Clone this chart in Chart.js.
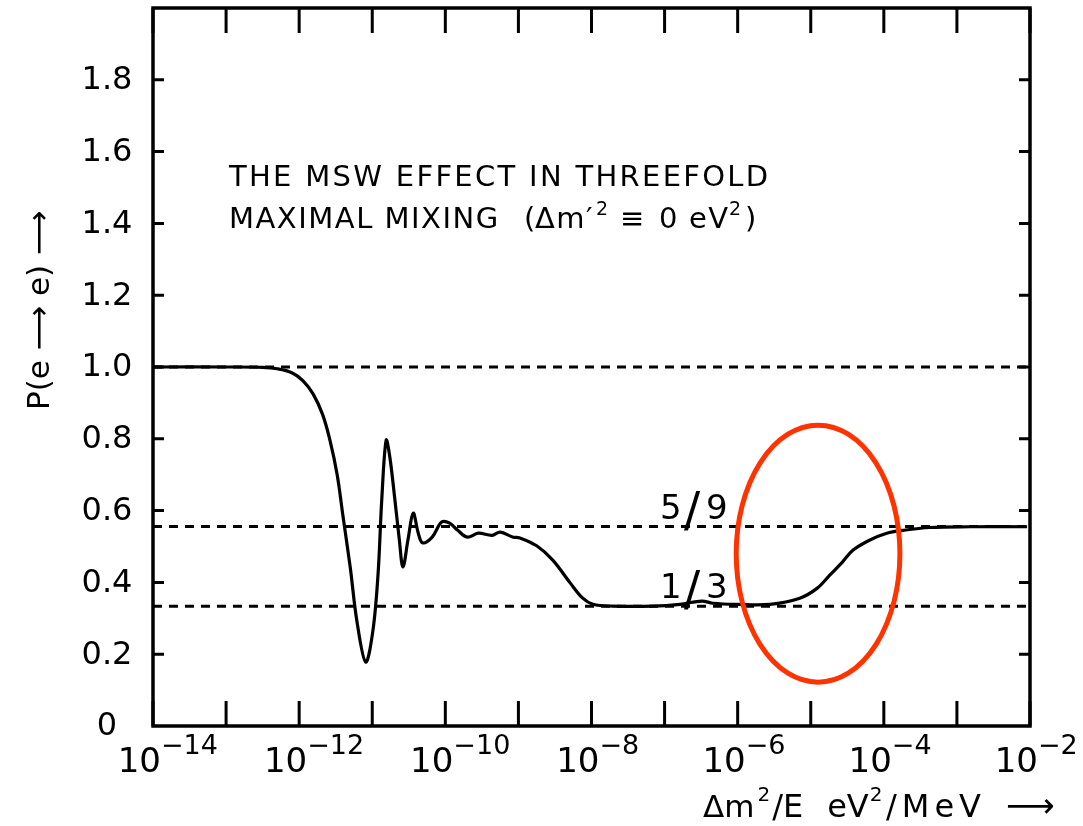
<!DOCTYPE html>
<html>
<head>
<meta charset="utf-8">
<script src="https://cdn.jsdelivr.net/npm/chart.js@4.4.1/dist/chart.umd.min.js"></script>
<style>
  body { margin: 0; background: #fff; }
  canvas { display: block; }
</style>
</head>
<body>
<canvas id="msw-chart" width="1083" height="826"></canvas>
<script>
// decades on the x axis (exponents of dm^2/E in eV^2/MeV)
const decadeExponents = [-14, -13, -12, -11, -10, -9, -8, -7, -6, -5, -4, -3, -2];
const labelledExponents = [-14, -12, -10, -8, -6, -4, -2];
const yTickValues = [0.2, 0.4, 0.6, 0.8, 1.0, 1.2, 1.4, 1.6, 1.8];
const yTickLabels = ["0", "0.2", "0.4", "0.6", "0.8", "1.0", "1.2", "1.4", "1.6", "1.8"];

// P(e -> e), x given as log10(dm^2/E)
const curveLogX = [
  -14, -12.95, -12.5, -12.3, -12.1, -11.95, -11.81, -11.68, -11.58, -11.48,
  -11.4, -11.3, -11.21, -11.09, -10.99, -10.92, -10.87, -10.81, -10.76, -10.69,
  -10.63, -10.58, -10.51, -10.44, -10.37, -10.31, -10.18, -10.05, -9.94, -9.83,
  -9.7, -9.55, -9.36, -9.25, -9.07, -8.98, -8.75, -8.53, -8.29, -8.12,
  -7.98, -7.71, -7.16, -6.79, -6.49, -6.34, -6.01, -5.56, -5.15, -4.91,
  -4.74, -4.57, -4.42, -4.19, -3.96, -3.74, -3.37, -2.82, -2.04
];
const curveP = [
  1.0, 1.0, 0.999, 0.995, 0.984, 0.962, 0.925, 0.868, 0.797, 0.7,
  0.584, 0.44, 0.292, 0.178, 0.267, 0.425, 0.63, 0.796, 0.75, 0.63,
  0.52, 0.443, 0.52, 0.593, 0.537, 0.51, 0.526, 0.568, 0.565, 0.545,
  0.526, 0.537, 0.531, 0.54, 0.526, 0.524, 0.502, 0.462, 0.398, 0.356,
  0.339, 0.334, 0.334, 0.339, 0.348, 0.342, 0.339, 0.339, 0.356, 0.384,
  0.42, 0.456, 0.49, 0.518, 0.537, 0.545, 0.553, 0.555, 0.555
];

// dashed reference levels
const refLevels = [1.0, 5 / 9, 1 / 3];
const refLabels = [null, ["5", "/", "9"], ["1", "/", "3"]];

// red ellipse marking the region, in data units
const ellipseLogX = [-6.02, -3.78];
const ellipseP = [0.122, 0.838];

const FONT = '"DejaVu Sans", sans-serif';

function toPoints(logs, values) {
  return logs.map((e, i) => ({ x: Math.pow(10, e), y: values[i] }));
}

// pieces: [text, x, size, dy]
function drawAt(ctx, pieces, y) {
  pieces.forEach(([text, x, size, dy]) => {
    ctx.font = size + "px " + FONT;
    ctx.fillText(text, x, y + (dy || 0));
  });
}

// pieces: [text, size, dy, gapAfter], drawn one after another
function drawRun(ctx, pieces, x, y) {
  pieces.forEach(([text, size, dy, gap]) => {
    ctx.font = size + "px " + FONT;
    ctx.fillText(text, x, y + dy);
    x += ctx.measureText(text).width + gap;
  });
}

const decorPlugin = {
  id: "decor",
  afterDatasetsDraw(chart) {
    const { ctx, chartArea: a, scales } = chart;
    const xs = scales.x;
    const ys = scales.y;
    ctx.save();
    ctx.fillStyle = "#000";
    ctx.strokeStyle = "#000";

    // frame
    ctx.lineWidth = 3.5;
    ctx.strokeRect(a.left, a.top, a.right - a.left, a.bottom - a.top);

    // inward ticks
    ctx.lineWidth = 3;
    ctx.beginPath();
    decadeExponents.forEach((e) => {
      const px = xs.getPixelForValue(Math.pow(10, e));
      ctx.moveTo(px, a.bottom);
      ctx.lineTo(px, a.bottom - 25);
      ctx.moveTo(px, a.top);
      ctx.lineTo(px, a.top + 25);
    });
    yTickValues.forEach((v) => {
      const py = ys.getPixelForValue(v);
      ctx.moveTo(a.left, py);
      ctx.lineTo(a.left + 11, py);
      ctx.moveTo(a.right, py);
      ctx.lineTo(a.right - 11, py);
    });
    ctx.stroke();

    // y tick labels
    ctx.font = "32px " + FONT;
    ctx.textAlign = "center";
    ctx.textBaseline = "middle";
    yTickLabels.forEach((lbl, i) => {
      ctx.fillText(lbl, 107, ys.getPixelForValue(i * 0.2) + 1);
    });

    // x tick labels 10^n
    ctx.textBaseline = "alphabetic";
    labelledExponents.forEach((e) => {
      const px = xs.getPixelForValue(Math.pow(10, e)) + 8;
      ctx.textAlign = "right";
      ctx.font = "34px " + FONT;
      ctx.fillText("10", px, 772);
      ctx.textAlign = "left";
      ctx.font = "27px " + FONT;
      ctx.fillText("\u2212" + Math.abs(e), px, 754);
    });

    // x axis title
    ctx.textAlign = "left";
    drawRun(ctx, [
      ["\u0394m", 31, 0, 3],
      ["2", 20, -16, 2],
      ["/E", 32, 0, 24],
      ["eV", 32, 0, 1],
      ["2", 20, -16, 1]
    ], 703, 817);
    ctx.letterSpacing = "5px";
    drawAt(ctx, [["/MeV", 886, 32]], 817);
    ctx.letterSpacing = "0px";
    drawAt(ctx, [["\u27F6", 1006, 34]], 817);

    // y axis title
    ctx.save();
    ctx.translate(49, 410);
    ctx.rotate(-Math.PI / 2);
    ctx.font = "31px " + FONT;
    ctx.textAlign = "left";
    ctx.fillText("P(e \u27F6 e) \u27F6", 0, 0);
    ctx.restore();

    // annotation
    ctx.textAlign = "left";
    ctx.font = "29px " + FONT;
    ctx.letterSpacing = "2.3px";
    ctx.fillText("THE MSW EFFECT IN THREEFOLD", 229, 186);
    ctx.letterSpacing = "1.5px";
    drawAt(ctx, [
      ["MAXIMAL MIXING", 229, 29],
      ["(", 524, 29],
      ["\u0394m\u2032", 535, 29],
      ["2", 596, 19, -13],
      ["\u2261", 620, 29],
      ["0", 659, 29],
      ["eV", 689, 29],
      ["2", 729, 19, -13],
      [")", 745, 29]
    ], 228);
    ctx.letterSpacing = "0px";

    // 5/9 and 1/3 labels
    refLabels.forEach((parts, i) => {
      if (!parts) return;
      const base = ys.getPixelForValue(refLevels[i]) - 8;
      ctx.font = "34px " + FONT;
      ctx.fillText(parts[0], 660, base);
      ctx.font = "48px " + FONT;
      ctx.fillText(parts[1], 684, base + 7);
      ctx.font = "34px " + FONT;
      ctx.fillText(parts[2], 706, base);
    });

    // red ellipse
    const x0 = xs.getPixelForValue(Math.pow(10, ellipseLogX[0]));
    const x1 = xs.getPixelForValue(Math.pow(10, ellipseLogX[1]));
    const y0 = ys.getPixelForValue(ellipseP[0]);
    const y1 = ys.getPixelForValue(ellipseP[1]);
    ctx.beginPath();
    ctx.ellipse((x0 + x1) / 2, (y0 + y1) / 2, Math.abs(x1 - x0) / 2, Math.abs(y0 - y1) / 2, 0, 0, Math.PI * 2);
    ctx.strokeStyle = "#ff3300";
    ctx.lineWidth = 5;
    ctx.stroke();

    ctx.restore();
  }
};

const refDatasets = refLevels.map((lvl) => ({
  data: [{ x: 1e-14, y: lvl }, { x: 1e-2, y: lvl }],
  borderColor: "#000",
  borderWidth: 3,
  borderDash: [9, 7],
  pointRadius: 0
}));

new Chart(document.getElementById("msw-chart"), {
  type: "line",
  data: {
    datasets: [
      {
        data: toPoints(curveLogX, curveP),
        borderColor: "#000",
        borderWidth: 3.2,
        pointRadius: 0,
        tension: 0.35
      },
      ...refDatasets
    ]
  },
  options: {
    responsive: false,
    animation: false,
    layout: { padding: { left: 153, right: 53, top: 8, bottom: 100 } },
    plugins: { legend: { display: false }, tooltip: { enabled: false } },
    scales: {
      x: { type: "logarithmic", min: 1e-14, max: 1e-2, display: false },
      y: { type: "linear", min: 0, max: 2, display: false }
    }
  },
  plugins: [decorPlugin]
});
</script>
</body>
</html>
